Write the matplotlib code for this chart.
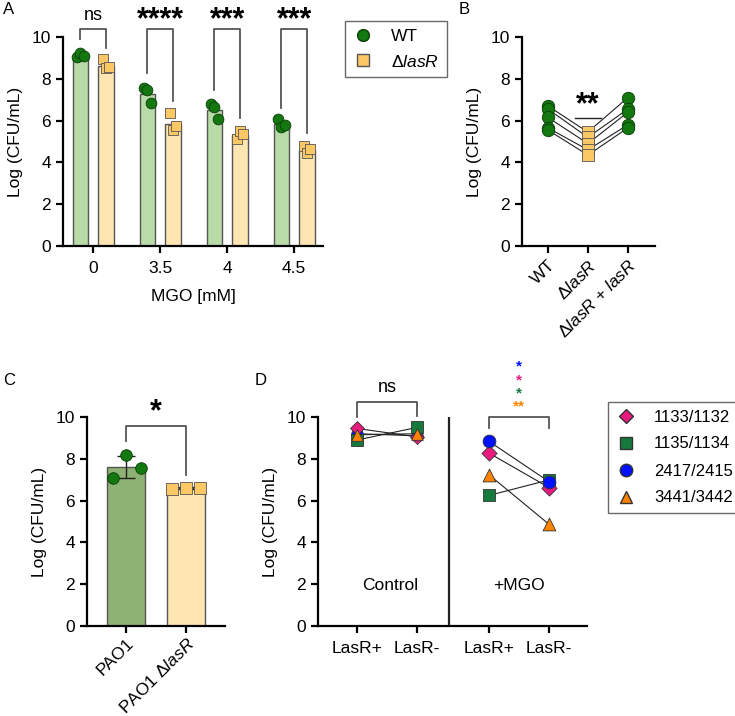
import matplotlib
matplotlib.use("Agg")
import matplotlib.pyplot as plt
import numpy as np
from matplotlib.lines import Line2D

plt.rcParams['font.family'] = ['Liberation Sans', 'DejaVu Sans']
plt.rcParams['mathtext.fontset'] = 'custom'
plt.rcParams['mathtext.rm'] = 'Liberation Sans'
plt.rcParams['mathtext.it'] = 'Liberation Sans:italic'
plt.rcParams['font.size'] = 12.5

# couleurs
vert_barre = '#b8dba8'
jaune_barre = '#fde6b2'
vert_barre_c = '#8db274'
vert_pt = '#13780f'
jaune_pt = '#fcc865'
gris = '#555555'

# --- donnees panneau A ---
mgo_labels = ['0', '3.5', '4', '4.5']
wt_moy = [9.1, 7.25, 6.5, 5.85]
lasr_moy = [8.6, 5.85, 5.3, 4.6]
wt_pts = [[9.05, 9.25, 9.1], [7.55, 7.45, 6.85], [6.8, 6.65, 6.1], [6.1, 5.7, 5.8]]
lasr_pts = [[8.95, 8.5, 8.55], [6.35, 5.55, 5.75], [5.1, 5.5, 5.35], [4.8, 4.45, 4.65]]
sig_a = ['ns', '****', '***', '***']
crochet_gauche = [9.9, 8.3, 7.45, 6.6]
crochet_droit = [9.47, 6.93, 6.13, 5.4]

# --- donnees panneau B ---
b_labels = ['WT', r'Δ$\mathit{lasR}$', r'Δ$\mathit{lasR}$ + $\mathit{lasR}$']
b_wt = [6.7, 6.55, 6.15, 5.65, 5.55]
b_lasr = [5.45, 5.2, 4.9, 4.6, 4.35]
b_comp = [7.1, 6.55, 6.4, 5.8, 5.65]

# --- donnees panneau C ---
c_labels = ['PAO1', r'PAO1 Δ$\mathit{lasR}$']
c_moy = [7.6, 6.6]
c_sd = [0.53, 0.04]
c_pao1 = [7.1, 8.2, 7.55]
c_lasr = [6.55, 6.6, 6.6]

# --- donnees panneau D ---
d_labels = ['LasR+', 'LasR-', 'LasR+', 'LasR-']
souches = ['1133/1132', '1135/1134', '2417/2415', '3441/3442']
marqueurs = ['D', 's', 'o', '^']
couleurs_d = ['#e8197f', '#167a3c', '#0011ff', '#ff8200']
ctrl_plus = [9.45, 8.9, 9.2, 9.15]
ctrl_moins = [9.05, 9.5, 9.1, 9.2]
mgo_plus = [8.27, 6.25, 8.83, 7.23]
mgo_moins = [6.62, 6.99, 6.9, 4.86]

W, H = 735, 716
fig = plt.figure(figsize=(W / 100, H / 100), dpi=100)


def axe(x0, x1, y_haut, y_bas):
    return fig.add_axes([x0 / W, 1 - y_bas / H, (x1 - x0) / W, (y_bas - y_haut) / H])


def style(ax):
    for s in ['top', 'right']:
        ax.spines[s].set_visible(False)
    for s in ['left', 'bottom']:
        ax.spines[s].set_linewidth(1.6)
    ax.tick_params(width=1.6, length=5, labelsize=12.5)
    ax.tick_params(axis='x', pad=6)
    ax.set_ylim(0, 10)
    ax.set_yticks([0, 2, 4, 6, 8, 10])
    ax.set_ylabel('Log (CFU/mL)', fontsize=12.5, labelpad=6)


def crochet(ax, x1, x2, y_top, y1, y2, couleur=gris):
    ax.plot([x1, x1, x2, x2], [y1, y_top, y_top, y2], color=couleur, lw=1.3, clip_on=False)


# ===== A =====
axA = axe(63, 323, 37, 246)
style(axA)
x = np.arange(len(mgo_labels))
dx = 0.19
axA.bar(x - dx, wt_moy, 0.23, color=vert_barre, edgecolor=gris, lw=1.0, zorder=1)
axA.bar(x + dx, lasr_moy, 0.23, color=jaune_barre, edgecolor=gris, lw=1.0, zorder=1)
dec = [-0.05, 0.0, 0.05]
for i in range(len(mgo_labels)):
    axA.scatter(x[i] - dx + np.array(dec), wt_pts[i], s=60, color=vert_pt, edgecolor='#0a3d08',
                lw=0.6, zorder=3, clip_on=False)
    axA.scatter(x[i] + dx + np.array(dec), lasr_pts[i], s=55, marker='s', color=jaune_pt,
                edgecolor=gris, lw=0.6, zorder=3, clip_on=False)
    crochet(axA, x[i] - dx, x[i] + dx, 10.4, crochet_gauche[i], crochet_droit[i])
    if sig_a[i] == 'ns':
        axA.text(x[i], 11.05, sig_a[i], ha='center', va='center', fontsize=13)
    else:
        axA.text(x[i], 10.8, sig_a[i], ha='center', va='center', fontsize=22, fontweight='bold')
axA.set_xticks(x)
axA.set_xticklabels(mgo_labels)
axA.set_xlim(-0.45, 3.43)
axA.set_xlabel('MGO [mM]', fontsize=12.5, labelpad=9)

leg_a = [Line2D([], [], marker='o', ls='', color=vert_pt, mec='#0a3d08', ms=8.5, label='WT'),
         Line2D([], [], marker='s', ls='', color=jaune_pt, mec=gris, ms=8.5, label=r'Δ$\mathit{lasR}$')]
fig.legend(handles=leg_a, loc='upper left', bbox_to_anchor=(345 / W, 1 - 21 / H), frameon=True,
           fancybox=False, edgecolor='#444444', fontsize=12.5, borderaxespad=0, handlelength=1.2,
           handletextpad=1.0, labelspacing=0.55, borderpad=0.45).get_frame().set_linewidth(1.0)

# ===== B =====
axB = axe(522, 655, 37, 246)
style(axB)
for a, b, c in zip(b_wt, b_lasr, b_comp):
    axB.plot([0, 1, 2], [a, b, c], color='#222222', lw=0.8, zorder=2)
axB.scatter([0] * len(b_wt), b_wt, s=80, color=vert_pt, edgecolor='#0a3d08', lw=0.6, zorder=3)
axB.scatter([1] * len(b_lasr), b_lasr, s=75, marker='s', color=jaune_pt, edgecolor=gris, lw=0.6, zorder=3)
axB.scatter([2] * len(b_comp), b_comp, s=80, color=vert_pt, edgecolor='#0a3d08', lw=0.6, zorder=3)
axB.plot([0.68, 1.32], [6.13, 6.13], color='#222222', lw=1.0)
axB.text(1, 6.75, '**', ha='center', va='center', fontsize=22, fontweight='bold')
axB.set_xticks([0, 1, 2])
axB.set_xticklabels(b_labels, rotation=45, ha='right', rotation_mode='anchor')
axB.tick_params(axis='x', pad=3)
axB.set_xlim(-0.65, 2.68)

# ===== C =====
axC = axe(87, 225, 417, 626)
style(axC)
axC.bar([0, 1], c_moy, 0.63, color=[vert_barre_c, jaune_barre], edgecolor=gris, lw=1.0, zorder=1)
axC.errorbar([0, 1], c_moy, yerr=c_sd, fmt='none', ecolor='#222222', elinewidth=1.0, capsize=6.5,
             capthick=1.0, zorder=2)
axC.scatter([-0.22, 0.0, 0.25], c_pao1, s=70, color=vert_pt, edgecolor='#0a3d08', lw=0.6, zorder=3)
axC.scatter([0.77, 1.0, 1.23], c_lasr, s=70, marker='s', color=jaune_pt, edgecolor=gris, lw=0.6, zorder=3)
crochet(axC, 0, 1, 9.58, 8.83, 7.23)
axC.text(0.5, 10.25, '*', ha='center', va='center', fontsize=22, fontweight='bold')
axC.set_xticks([0, 1])
axC.set_xticklabels(c_labels, rotation=45, ha='right', rotation_mode='anchor')
axC.tick_params(axis='x', pad=2)
axC.set_xlim(-0.65, 1.65)

# ===== D =====
axD = axe(318, 587, 417, 626)
style(axD)
pos = [0, 1, 2.2, 3.2]
for i in range(len(souches)):
    axD.plot([pos[0], pos[1]], [ctrl_plus[i], ctrl_moins[i]], color='#222222', lw=0.8, zorder=2)
    axD.plot([pos[2], pos[3]], [mgo_plus[i], mgo_moins[i]], color='#222222', lw=0.8, zorder=2)
for i in [2, 1, 0, 3]:
    taille = 70 if marqueurs[i] != 'D' else 50
    axD.scatter([pos[0], pos[1]], [ctrl_plus[i], ctrl_moins[i]], s=taille, marker=marqueurs[i],
                color=couleurs_d[i], edgecolor='#333333', lw=0.6, zorder=3)
for i in [1, 0, 2, 3]:
    taille = 85 if marqueurs[i] != 'D' else 60
    axD.scatter([pos[2], pos[3]], [mgo_plus[i], mgo_moins[i]], s=taille, marker=marqueurs[i],
                color=couleurs_d[i], edgecolor='#333333', lw=0.6, zorder=3)
axD.axvline(1.53, ymin=0, ymax=1, color='#222222', lw=1.6)
crochet(axD, 0, 1, 10.7, 10.0, 10.05)
axD.text(0.5, 11.4, 'ns', ha='center', va='center', fontsize=13)
crochet(axD, 2.2, 3.2, 10.0, 9.47, 9.47)
etoiles = ['*', '*', '*', '**']
coul_etoiles = [couleurs_d[2], couleurs_d[0], couleurs_d[1], couleurs_d[3]]
for k, (e, c) in enumerate(zip(etoiles, coul_etoiles)):
    axD.text(2.7, 12.4 - k * 0.63, e, ha='center', va='center', fontsize=11, color=c,
             fontweight='bold')
axD.text(0.55, 1.95, 'Control', ha='center', va='center', fontsize=12.5)
axD.text(2.7, 1.95, '+MGO', ha='center', va='center', fontsize=12.5)
axD.set_xticks(pos)
axD.set_xticklabels(d_labels)
axD.set_xlim(-0.65, 3.83)

leg_d = [Line2D([], [], marker=m, ls='', color=c, mec='#333333', ms=9 if m != 'D' else 7.5, label=s)
         for m, c, s in zip(marqueurs, couleurs_d, souches)]
fig.legend(handles=leg_d, loc='upper left', bbox_to_anchor=(608 / W, 1 - 402 / H), frameon=True,
           fancybox=False, edgecolor='#444444', fontsize=12, borderaxespad=0, handlelength=1.2,
           handletextpad=1.1, labelspacing=0.72, borderpad=0.45).get_frame().set_linewidth(1.0)

# lettres des panneaux
fig.text(3 / W, 1 - 10 / H, 'A', fontsize=12, va='center')
fig.text(459 / W, 1 - 10 / H, 'B', fontsize=12, va='center')
fig.text(3 / W, 1 - 380 / H, 'C', fontsize=12, va='center')
fig.text(255 / W, 1 - 380 / H, 'D', fontsize=12, va='center')

fig.savefig('out.png', dpi=100)
